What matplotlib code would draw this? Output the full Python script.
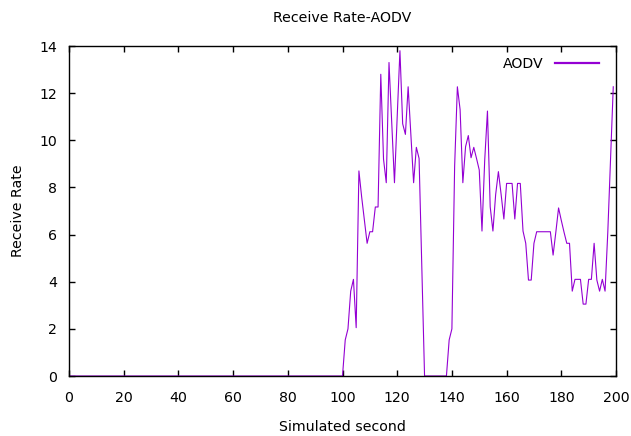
import matplotlib
matplotlib.use("Agg")
import matplotlib.pyplot as plt
import numpy as np

seconds = list(range(0, 200))
zeros_a = [0.0] * 101  # seconds 0..100
burst1 = [1.53, 2.0, 3.6, 4.1, 2.05, 8.7, 7.6, 6.6, 5.63, 6.12,
          6.12, 7.17, 7.17, 12.8, 9.2, 8.2, 13.3, 10.75, 8.2, 11.0,
          13.8, 10.7, 10.25, 12.27, 10.2, 8.2, 9.7, 9.23, 4.6]  # 101..129
zeros_b = [0.0] * 9  # 130..138
burst2 = [1.53, 2.0, 8.9, 12.27, 11.3, 8.2, 9.73, 10.2, 9.26, 9.7,
          9.23, 8.74, 6.15, 9.16, 11.24, 7.18, 6.15, 7.7, 8.67, 7.7,
          6.66, 8.17, 8.17, 8.17, 6.66, 8.17, 8.17, 6.15, 5.63, 4.07,
          4.07, 5.63, 6.12, 6.12, 6.12, 6.12, 6.12, 6.12, 5.13, 6.1,
          7.13, 6.6, 6.1, 5.63, 5.63, 3.6, 4.1, 4.1, 4.1, 3.05,
          3.05, 4.1, 4.1, 5.63, 4.07, 3.6, 4.1, 3.6, 6.1, 9.2,
          12.27]  # 139..199
rate = zeros_a + burst1 + zeros_b + burst2

x_ticks = list(range(0, 201, 20))
y_ticks = list(range(0, 15, 2))

FS = 10.2
plt.rcParams['font.family'] = ['DejaVu Sans']
fig = plt.figure(figsize=(6.31, 4.36), dpi=100)
ax = fig.add_axes([69/631, 60/436, (616-69)/631, (376-46)/436])
ax.plot(seconds, rate, color='#9400D3', linewidth=0.8, label='AODV')
ax.set_xlim(0, 200)
ax.set_ylim(0, 14)
ax.set_xticks(x_ticks)
ax.set_yticks(y_ticks)
ax.tick_params(direction='in', length=4.5, width=1, top=True, right=True,
               labelsize=FS)
ax.tick_params(axis='x', pad=10.5)
ax.tick_params(axis='y', pad=8.4)
for s in ax.spines.values():
    s.set_linewidth(1)
ax.set_title('Receive Rate-AODV', fontsize=FS, pad=17)
ax.set_xlabel('Simulated second', fontsize=FS, labelpad=11)
ax.set_ylabel('Receive Rate', fontsize=FS, labelpad=10.5)
leg = ax.legend(loc='center right', bbox_to_anchor=(0.979, 0.945),
                borderaxespad=0, frameon=False, markerfirst=False,
                fontsize=FS, handlelength=3.1, handletextpad=0.78)
for h in leg.get_lines():
    h.set_linewidth(1.6)
fig.savefig('out.png', dpi=100)
